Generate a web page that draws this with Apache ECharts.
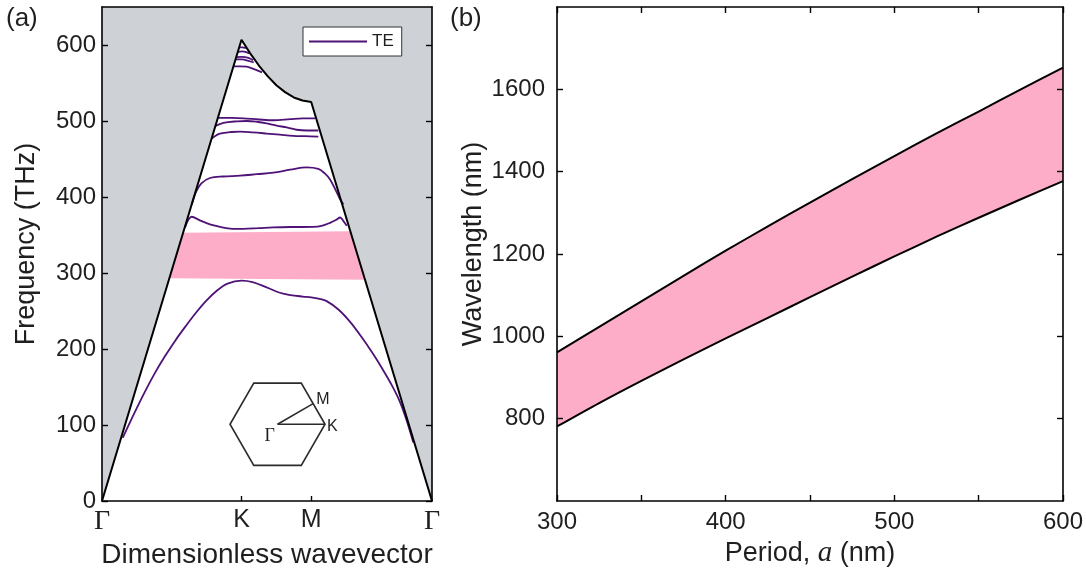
<!DOCTYPE html>
<html>
<head>
<meta charset="utf-8">
<style>
  html, body { margin: 0; padding: 0; background: #ffffff; }
  #chart { width: 1086px; height: 568px; }
</style>
<script src="https://cdn.jsdelivr.net/npm/echarts@6/dist/echarts.min.js"></script>
</head>
<body>
<div id="chart"></div>
<script>
// ---------- (a) photonic band diagram, TE modes ----------
// positions of the high-symmetry points along the path (dimensionless wavevector)
const K_PT = 0.6667;
const M_PT = 1.0;
const G_END = 1.5774;
const symmetryTicks = [0, K_PT, M_PT, G_END];
const symmetryLabels = ['Γ', 'K', 'M', 'Γ'];
const freqTicks = [0, 100, 200, 300, 400, 500, 600];

// light line (THz): straight Γ→K, curved K→M, straight M→Γ
const lightLine = [
  [0, 0], [0.6667, 607], [0.7083, 589], [0.75, 573], [0.7917, 559], [0.8333, 547],
  [0.875, 538], [0.9167, 531], [0.9583, 527], [1.0, 525], [1.5774, 0]
];

// photonic band gap (corners sit on the light line)
const gapCorners = [[0.3225, 293], [0.3876, 353], [1.187, 355], [1.257, 291]];

// guided TE bands below the light line
const band1 = [
  [0.099, 83], [0.15, 113], [0.20, 141], [0.25, 167], [0.30, 190], [0.35, 211],
  [0.40, 230], [0.45, 248], [0.50, 264], [0.55, 277], [0.60, 286], [0.6667, 290],
  [0.72, 288], [0.787, 281], [0.85, 274], [0.90, 271], [0.96, 269], [1.0, 268],
  [1.04, 266], [1.074, 263], [1.13, 252], [1.185, 236], [1.24, 216], [1.297, 193],
  [1.34, 174], [1.38, 155], [1.42, 133], [1.455, 107], [1.488, 77]
];
const band2 = [
  [0.397, 360], [0.429, 374], [0.47, 369], [0.516, 364], [0.56, 361], [0.612, 358.5],
  [0.675, 358], [0.75, 359], [0.819, 360], [0.9, 360.5], [1.01, 360.6], [1.05, 362],
  [1.09, 366], [1.12, 370], [1.138, 373], [1.155, 368], [1.17, 362]
];
const band3 = [
  [0.429, 390], [0.45, 407], [0.475, 418], [0.516, 425], [0.58, 427], [0.66, 428],
  [0.74, 430], [0.819, 432], [0.9, 436], [0.978, 439], [1.034, 437], [1.065, 431],
  [1.09, 423], [1.115, 410], [1.138, 397], [1.154, 390]
];
const band4 = [
  [0.524, 477], [0.545, 481], [0.564, 483.5], [0.62, 485.5], [0.66, 486], [0.72, 485],
  [0.787, 483.5], [0.85, 482], [0.914, 480.5], [0.97, 480], [1.034, 479.5]
];
const band5 = [
  [0.54, 493], [0.58, 497.5], [0.644, 499.6], [0.692, 500], [0.74, 499], [0.787, 497],
  [0.835, 494], [0.883, 491.5], [0.93, 488.5], [0.98, 487.5], [1.034, 487.5]
];
const band6 = [
  [0.555, 504], [0.62, 504], [0.675, 503.5], [0.75, 502], [0.82, 501], [0.9, 502.5],
  [0.96, 503.5], [1.018, 503.5]
];
const band7 = [[0.628, 572], [0.66, 572], [0.692, 571.5], [0.73, 568], [0.765, 564]];
const band8 = [[0.638, 581], [0.67, 581], [0.70, 579], [0.725, 577]];
const band9 = [[0.641, 584], [0.67, 584.5], [0.70, 583], [0.722, 580]];
const band10 = [[0.649, 591], [0.67, 591.5], [0.69, 590.5], [0.703, 589]];
const band11 = [[0.657, 597], [0.67, 597], [0.688, 596]];
const teBands = [band1, band2, band3, band4, band5, band6, band7, band8, band9, band10, band11];

// Brillouin-zone sketch anchor (data space)
const bzCenter = [[0.839, 101]];

// ---------- (b) gap edges versus lattice period ----------
const periods = [300, 325, 350, 375, 400, 425, 450, 475, 500, 525, 550, 575, 600];
const gapUpper = [961, 1023, 1085, 1147, 1208, 1267, 1325, 1382, 1438, 1493, 1546, 1600, 1653];
const gapLower = [781, 838, 892, 944, 995, 1045, 1095, 1145, 1194, 1242, 1288, 1333, 1377];
const wavelengthTicks = [800, 1000, 1200, 1400, 1600];

// ---------- styling ----------
const TE_COLOR = '#4f1277';
const PINK = '#fdadc8';
const GREY = '#ced1d6';
const INK = '#1f1f1f';
const SANS = "'Liberation Sans', Arial, sans-serif";
const SERIF = "'Liberation Serif', 'DejaVu Serif', serif";

const frameLine = { show: true, onZero: false, lineStyle: { color: '#000', width: 1.6 } };
const tickStyle = { lineStyle: { color: '#000', width: 1.4 } };

const chart = echarts.init(document.getElementById('chart'), null, { renderer: 'canvas' });

const bandSeries = teBands.map(b => ({
  name: 'TE',
  type: 'line',
  xAxisIndex: 0, yAxisIndex: 0,
  data: b,
  smooth: 0.35,
  symbol: 'none',
  silent: true,
  z: 4,
  lineStyle: { color: TE_COLOR, width: 1.8 },
  itemStyle: { color: TE_COLOR }
}));

const option = {
  animation: false,
  backgroundColor: '#ffffff',
  textStyle: { fontFamily: SANS },
  grid: [
    { left: 102, top: 7, width: 330, height: 494, show: true, backgroundColor: GREY, borderWidth: 0, outerBoundsMode: 'none' },
    { left: 557, top: 7, width: 506, height: 494, show: true, backgroundColor: '#ffffff', borderWidth: 0, outerBoundsMode: 'none' }
  ],
  legend: {
    data: ['TE'],
    left: 303, top: 27,
    orient: 'horizontal',
    itemWidth: 58, itemHeight: 14, itemGap: 4,
    padding: [6, 8, 6, 5],
    backgroundColor: '#ffffff',
    borderColor: '#333333', borderWidth: 1,
    borderRadius: 0,
    selectedMode: false,
    itemStyle: { opacity: 0 },
    lineStyle: { color: TE_COLOR, width: 2 },
    textStyle: { fontFamily: SANS, fontSize: 17, color: INK }
  },
  graphic: [
    { type: 'text', left: 6, top: 6, style: { text: '(a)', font: "26px 'Liberation Sans', Arial, sans-serif", fill: INK } },
    { type: 'text', left: 450, top: 6, style: { text: '(b)', font: "26px 'Liberation Sans', Arial, sans-serif", fill: INK } }
  ],
  xAxis: [
    {
      gridIndex: 0, type: 'value', position: 'bottom', min: 0, max: G_END, z: 10,
      name: 'Dimensionless wavevector', nameLocation: 'middle', nameGap: 32,
      nameTextStyle: { fontSize: 28, color: INK, fontFamily: SANS },
      axisLine: frameLine,
      axisTick: { show: true, inside: true, length: 5, customValues: [K_PT, M_PT], ...tickStyle },
      splitLine: { show: false },
      axisLabel: {
        customValues: symmetryTicks, margin: 7, fontSize: 25, color: INK,
        formatter: v => {
          const i = symmetryTicks.findIndex(t => Math.abs(t - v) < 1e-6);
          const s = i >= 0 ? symmetryLabels[i] : '';
          return s === 'Γ' ? '{g|Γ}' : s;
        },
        rich: { g: { fontFamily: SERIF, fontSize: 28, color: INK } }
      }
    },
    {
      gridIndex: 0, type: 'value', position: 'top', min: 0, max: G_END, z: 10,
      axisLine: frameLine, axisTick: { show: false }, axisLabel: { show: false }, splitLine: { show: false }
    },
    {
      gridIndex: 1, type: 'value', position: 'bottom', min: 300, max: 600, interval: 50, z: 10,
      name: 'Period, {i|a} (nm)', nameLocation: 'middle', nameGap: 32,
      nameTextStyle: { fontSize: 27, color: INK, fontFamily: SANS,
        rich: { i: { fontFamily: SERIF, fontStyle: 'italic', fontSize: 29, color: INK } } },
      axisLine: frameLine,
      axisTick: { show: true, inside: true, length: 6, ...tickStyle },
      splitLine: { show: false },
      axisLabel: { margin: 9, fontSize: 24, color: INK, formatter: v => (v % 100 === 0 ? String(v) : '') }
    },
    {
      gridIndex: 1, type: 'value', position: 'top', min: 300, max: 600, interval: 50, z: 10,
      axisLine: frameLine, axisTick: { show: true, inside: true, length: 6, ...tickStyle },
      axisLabel: { show: false }, splitLine: { show: false }
    }
  ],
  yAxis: [
    {
      gridIndex: 0, type: 'value', position: 'left', min: 0, max: 650, z: 10,
      name: 'Frequency (THz)', nameLocation: 'middle', nameGap: 62,
      nameTextStyle: { fontSize: 27, color: INK, fontFamily: SANS, padding: [0, 0, 0, 20] },
      axisLine: frameLine,
      axisTick: { show: true, inside: true, length: 6, customValues: freqTicks, ...tickStyle },
      splitLine: { show: false },
      axisLabel: { customValues: freqTicks, margin: 6, fontSize: 24, color: INK }
    },
    {
      gridIndex: 0, type: 'value', position: 'right', min: 0, max: 650, z: 10,
      axisLine: frameLine,
      axisTick: { show: true, inside: true, length: 6, customValues: freqTicks, ...tickStyle },
      axisLabel: { show: false }, splitLine: { show: false }
    },
    {
      gridIndex: 1, type: 'value', position: 'left', min: 600, max: 1800, interval: 200, z: 10,
      name: 'Wavelength (nm)', nameLocation: 'middle', nameGap: 70,
      nameTextStyle: { fontSize: 27, color: INK, fontFamily: SANS, padding: [0, 0, 0, 20] },
      axisLine: frameLine,
      axisTick: { show: true, inside: true, length: 6, customValues: wavelengthTicks, ...tickStyle },
      splitLine: { show: false },
      axisLabel: { customValues: wavelengthTicks, margin: 12, fontSize: 24, color: INK, formatter: v => String(v) }
    },
    {
      gridIndex: 1, type: 'value', position: 'right', min: 600, max: 1800, interval: 200, z: 10,
      axisLine: frameLine,
      axisTick: { show: true, inside: true, length: 6, customValues: wavelengthTicks, ...tickStyle },
      axisLabel: { show: false }, splitLine: { show: false }
    }
  ],
  series: [
    // region under the light line is left white; the grey grid shows above it
    {
      type: 'line', xAxisIndex: 0, yAxisIndex: 0, data: lightLine,
      symbol: 'none', silent: true, z: 2,
      lineStyle: { width: 0, opacity: 0 },
      areaStyle: { color: '#ffffff', opacity: 1 }
    },
    // photonic band gap
    {
      type: 'custom', xAxisIndex: 0, yAxisIndex: 0, data: gapCorners, silent: true, z: 3,
      encode: { x: 0, y: 1 },
      renderItem: (params, api) => {
        if (params.dataIndex !== 0) return null;
        return {
          type: 'polygon',
          shape: { points: gapCorners.map(p => api.coord(p)) },
          style: { fill: PINK }
        };
      }
    },
    ...bandSeries,
    // light line
    {
      type: 'line', xAxisIndex: 0, yAxisIndex: 0, data: lightLine,
      symbol: 'none', silent: true, z: 5,
      lineStyle: { color: '#000', width: 2 }
    },
    // first Brillouin zone with the irreducible path Γ–K–M
    {
      type: 'custom', xAxisIndex: 0, yAxisIndex: 0, data: bzCenter, silent: true, z: 6,
      encode: { x: 0, y: 1 },
      renderItem: (params, api) => {
        const c = api.coord([api.value(0), api.value(1)]);
        const R = 47.5;
        const pts = [];
        for (let k = 0; k < 6; k++) {
          const a = k * Math.PI / 3;
          pts.push([c[0] + R * Math.cos(a), c[1] - R * Math.sin(a)]);
        }
        const K = pts[0];
        const M = [(pts[0][0] + pts[1][0]) / 2, (pts[0][1] + pts[1][1]) / 2];
        const stroke = { stroke: '#2b2b2b', lineWidth: 1.6, fill: null };
        return {
          type: 'group',
          children: [
            { type: 'polygon', shape: { points: pts }, style: { ...stroke, fill: 'rgba(0,0,0,0)' } },
            { type: 'line', shape: { x1: c[0], y1: c[1], x2: K[0], y2: K[1] }, style: stroke },
            { type: 'line', shape: { x1: c[0], y1: c[1], x2: M[0], y2: M[1] }, style: stroke },
            { type: 'text', x: M[0] + 3, y: M[1] - 12, style: { text: 'M', font: "16px 'Liberation Sans', Arial, sans-serif", fill: INK } },
            { type: 'text', x: K[0] + 2, y: K[1] - 6, style: { text: 'K', font: "16px 'Liberation Sans', Arial, sans-serif", fill: INK } },
            { type: 'text', x: c[0] - 13, y: c[1] + 3, style: { text: 'Γ', font: "18px 'Liberation Serif', serif", fill: INK } }
          ]
        };
      }
    },
    // (b) band gap region between the two edges
    {
      type: 'custom', xAxisIndex: 2, yAxisIndex: 2, silent: true, z: 2,
      data: periods.map((p, i) => [p, gapLower[i]]),
      encode: { x: 0, y: 1 },
      renderItem: (params, api) => {
        if (params.dataIndex !== 0) return null;
        const lower = periods.map((p, i) => api.coord([p, gapLower[i]]));
        const upper = periods.map((p, i) => api.coord([p, gapUpper[i]])).reverse();
        return { type: 'polygon', shape: { points: lower.concat(upper) }, style: { fill: PINK } };
      }
    },
    {
      type: 'line', xAxisIndex: 2, yAxisIndex: 2, data: periods.map((p, i) => [p, gapUpper[i]]),
      symbol: 'none', silent: true, smooth: 0.3, z: 4, lineStyle: { color: '#000', width: 2 }
    },
    {
      type: 'line', xAxisIndex: 2, yAxisIndex: 2, data: periods.map((p, i) => [p, gapLower[i]]),
      symbol: 'none', silent: true, smooth: 0.3, z: 4, lineStyle: { color: '#000', width: 2 }
    }
  ]
};

chart.setOption(option);
</script>
</body>
</html>
